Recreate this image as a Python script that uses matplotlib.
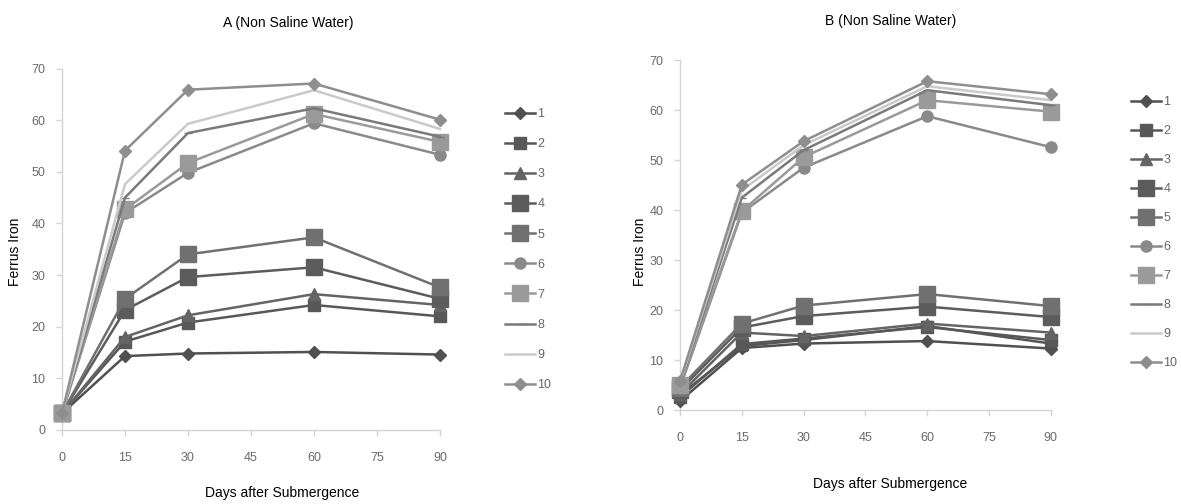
import matplotlib
matplotlib.use("Agg")
import matplotlib.pyplot as plt

plt.rcParams['font.family'] = ['Liberation Sans', 'DejaVu Sans']

days = [0, 15, 30, 60, 90]
series_names = ['1', '2', '3', '4', '5', '6', '7', '8', '9', '10']

# Panel A (Non Saline Water)
a_vals = [
    [3.2, 14.3, 14.8, 15.1, 14.6],
    [3.2, 17.1, 20.8, 24.2, 22.0],
    [3.2, 18.0, 22.2, 26.3, 24.2],
    [3.2, 23.2, 29.6, 31.5, 25.4],
    [3.2, 25.4, 34.0, 37.3, 27.6],
    [3.2, 42.0, 49.8, 59.4, 53.3],
    [3.2, 42.7, 51.7, 61.2, 55.8],
    [3.2, 45.0, 57.5, 62.3, 56.8],
    [3.2, 47.6, 59.3, 65.8, 58.3],
    [3.2, 54.1, 65.9, 67.1, 60.1],
]

# Panel B (Non Saline Water)
b_vals = [
    [1.8, 12.4, 13.3, 13.8, 12.3],
    [2.6, 13.2, 14.3, 16.6, 14.0],
    [3.2, 15.5, 14.8, 17.3, 15.5],
    [3.0, 12.8, 14.0, 16.8, 13.3],
    [4.0, 16.5, 18.8, 20.7, 18.6],
    [4.5, 17.3, 20.9, 23.2, 20.8],
    [4.5, 39.5, 48.5, 58.8, 52.6],
    [5.0, 39.8, 50.6, 62.0, 59.7],
    [5.2, 42.5, 52.0, 64.0, 61.0],
    [5.5, 44.0, 53.0, 64.8, 62.0],
    [5.8, 45.1, 53.8, 65.8, 63.2],
]
# B panel drawn series order matches legend 1..10 (one extra low line)
b_order = [0, 1, 2, 4, 5, 6, 7, 8, 9, 10]
b_extra = 3

colors = ['#505050', '#585858', '#646464', '#5c5c5c', '#707070',
          '#8a8a8a', '#9a9a9a', '#7a7a7a', '#cacaca', '#8e8e8e']
markers = ['D', 's', '^', 's', 's', 'o', 's', '_', '', 'D']
msizes = [6, 8, 8, 12, 12, 8, 12, 6, 0, 6]


def draw_panel(ax, vals, legend_xy, spacing, fig):
    handles = []
    for i, v in enumerate(vals):
        ln, = ax.plot(days, v, color=colors[i], lw=1.8, marker=markers[i],
                      ms=msizes[i], mec=colors[i], mfc=colors[i],
                      label=series_names[i], clip_on=False, zorder=3)
        handles.append(ln)
    ax.set_xlim(0, 90)
    ax.set_ylim(0, 70)
    ax.set_xticks([0, 15, 30, 45, 60, 75, 90])
    ax.set_yticks(range(0, 71, 10))
    for s in ['top', 'right']:
        ax.spines[s].set_visible(False)
    for s in ['left', 'bottom']:
        ax.spines[s].set_color('#d4d4d4')
        ax.spines[s].set_linewidth(1.0)
    ax.tick_params(colors='#d4d4d4', labelcolor='#6a6a6a', labelsize=9,
                   length=4, width=1.0)
    ax.tick_params(axis='x', pad=12)
    ax.tick_params(axis='y', pad=8)
    fig.legend(handles=handles, loc='upper left', bbox_to_anchor=legend_xy,
               frameon=False, fontsize=9, labelspacing=spacing, handlelength=2.4,
               handletextpad=0.2, labelcolor='#666666')
    return handles


fig = plt.figure(figsize=(11.81, 5.04), dpi=100)

axA = fig.add_axes([0.0525, 0.147, 0.32, 0.717])
draw_panel(axA, a_vals, (0.418, 0.808), 1.45, fig)
fig.text(0.244, 0.955, 'A (Non Saline Water)', ha='center', va='center', fontsize=10)
fig.text(0.239, 0.022, 'Days after Submergence', ha='center', va='center', fontsize=10)
fig.text(0.013, 0.50, 'Ferrus Iron', ha='center', va='center', rotation=90, fontsize=10)

axB = fig.add_axes([0.5758, 0.1865, 0.314, 0.694])
b_list = [b_vals[k] for k in b_order]
draw_panel(axB, b_list, (0.948, 0.832), 1.36, fig)
axB.plot(days, b_vals[b_extra], color='#555555', lw=1.8, marker='s', ms=7,
         clip_on=False, zorder=2)
fig.text(0.754, 0.958, 'B (Non Saline Water)', ha='center', va='center', fontsize=10)
fig.text(0.754, 0.040, 'Days after Submergence', ha='center', va='center', fontsize=10)
fig.text(0.542, 0.50, 'Ferrus Iron', ha='center', va='center', rotation=90, fontsize=10)

fig.savefig('out.png', dpi=100)
